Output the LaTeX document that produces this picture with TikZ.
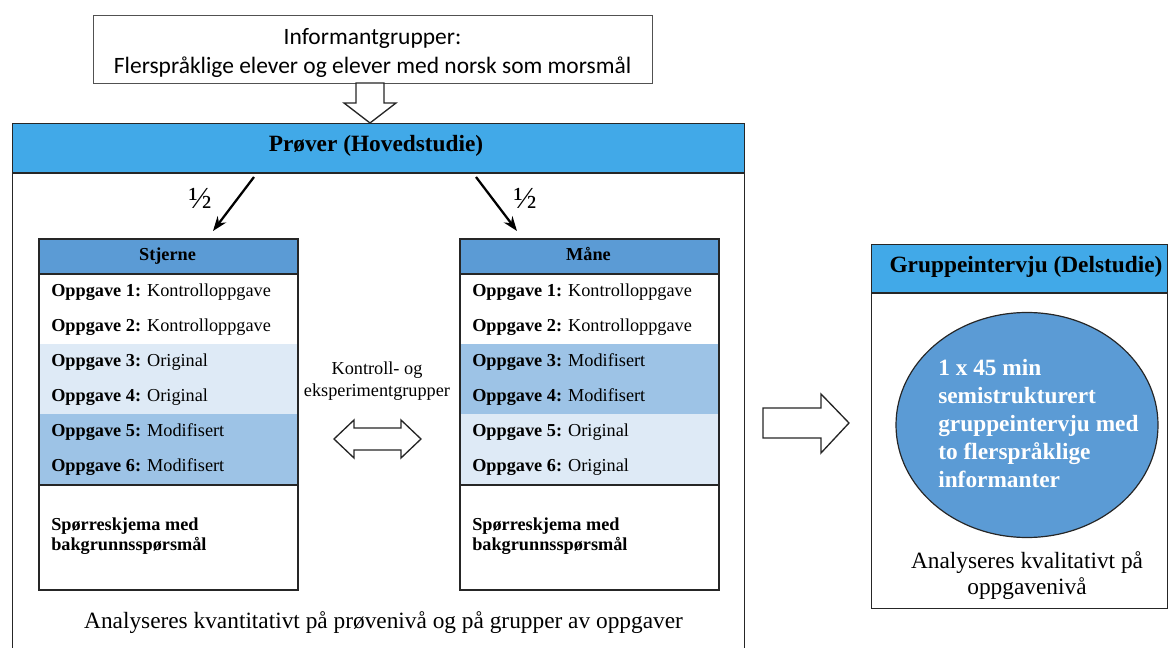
\documentclass[tikz,border=0pt]{standalone}
\usepackage{fontspec}
\setmainfont{Liberation Serif}
\newfontfamily\calibri{Carlito}
\usetikzlibrary{arrows.meta,shapes.geometric}
\definecolor{barblue}{HTML}{41A9E8}
\definecolor{hdrblue}{HTML}{5B9BD5}
\definecolor{modblue}{HTML}{9DC3E6}
\definecolor{origblue}{HTML}{DEEAF6}
\definecolor{edge}{HTML}{262626}
\tikzset{
  boxline/.style={draw=edge, line width=1.1pt},
  tabline/.style={draw=edge, line width=1.6pt},
  tabtxt/.style={anchor=west, inner sep=0pt, font=\fontsize{13.7}{16}\selectfont},
  hdrtxt/.style={inner sep=0pt, anchor=base, font=\fontsize{13.7}{16}\selectfont\bfseries},
  bigtxt/.style={inner sep=0pt, align=center, font=\fontsize{17.5}{19.5}\selectfont},
  halftxt/.style={inner sep=0pt, font=\fontsize{23}{25}\selectfont},
  hollow/.style={draw=edge, line width=1pt, fill=white, line join=miter},
  split/.style={line width=1.7pt, -{Stealth[length=11pt,width=8pt]}},
}
\begin{document}
\begin{tikzpicture}[x=0.75pt,y=-0.75pt]
\useasboundingbox (0,0) rectangle (1171,648);
\clip (0,0) rectangle (1171,648);

% top box
\node[boxline, draw=edge!80, anchor=north west, minimum width=419.25pt, minimum height=51pt, inner sep=0pt] (info) at (93,15) {};
\node[align=center, inner sep=0pt, font=\calibri\fontsize{17.6}{21.5}\selectfont] (infotxt) at (372.5,53)
  {Informantgrupper:\\Flerspråklige elever og elever med norsk som morsmål};

% main box
\fill[barblue] (12,123) rectangle (744,173);
\node[boxline, anchor=north west, minimum width=549pt, minimum height=450pt, inner sep=0pt] (main) at (12,123) {};
\draw[edge, line width=1.6pt] (12,173) -- (744,173);
\node[bigtxt, font=\fontsize{17.5}{19.5}\selectfont\bfseries] (prover) at (376,146) {Prøver (Hovedstudie)};

% down hollow arrow
\draw[hollow] (356,83) -- (384,83) -- (384,103) -- (396,103) -- (370,123) -- (344,103) -- (356,103) -- cycle;

% Stjerne table
\fill[hdrblue] (38,238) rectangle (297,274);
\fill[origblue] (38,344) rectangle (297,414);
\fill[modblue] (38,414) rectangle (297,485);
\draw[tabline] (38,274) -- (297,274);
\draw[tabline] (38,485) -- (297,485);
\node[tabline, anchor=north west, minimum width=194.25pt, minimum height=263.25pt, inner sep=0pt] (stj) at (38,238) {};
\node[hdrtxt] (stjh) at (167.5,261) {Stjerne};
\node[tabtxt] (s1) at (51,292) {\textbf{Oppgave 1:} Kontrolloppgave};
\node[tabtxt] (s2) at (51,327) {\textbf{Oppgave 2:} Kontrolloppgave};
\node[tabtxt] (s3) at (51,362) {\textbf{Oppgave 3:} Original};
\node[tabtxt] (s4) at (51,397) {\textbf{Oppgave 4:} Original};
\node[tabtxt] (s5) at (51,432) {\textbf{Oppgave 5:} Modifisert};
\node[tabtxt] (s6) at (51,467) {\textbf{Oppgave 6:} Modifisert};
\node[tabtxt, align=left, font=\fontsize{13.7}{15}\selectfont\bfseries] (sq) at (51,536) {Spørreskjema med\\bakgrunnsspørsmål};

% Maane table
\fill[hdrblue] (459,238) rectangle (718,274);
\fill[modblue] (459,344) rectangle (718,414);
\fill[origblue] (459,414) rectangle (718,485);
\draw[tabline] (459,274) -- (718,274);
\draw[tabline] (459,485) -- (718,485);
\node[tabline, anchor=north west, minimum width=194.25pt, minimum height=263.25pt, inner sep=0pt] (mane) at (459,238) {};
\node[hdrtxt] (maneh) at (588.5,261) {Måne};
\node[tabtxt] (m1) at (472,292) {\textbf{Oppgave 1:} Kontrolloppgave};
\node[tabtxt] (m2) at (472,327) {\textbf{Oppgave 2:} Kontrolloppgave};
\node[tabtxt] (m3) at (472,362) {\textbf{Oppgave 3:} Modifisert};
\node[tabtxt] (m4) at (472,397) {\textbf{Oppgave 4:} Modifisert};
\node[tabtxt] (m5) at (472,432) {\textbf{Oppgave 5:} Original};
\node[tabtxt] (m6) at (472,467) {\textbf{Oppgave 6:} Original};
\node[tabtxt, align=left, font=\fontsize{13.7}{15}\selectfont\bfseries] (mq) at (472,536) {Spørreskjema med\\bakgrunnsspørsmål};

% split arrows
\coordinate (ls) at (254,177);
\coordinate (le) at (213,231);
\coordinate (rs) at (476,177);
\coordinate (re) at (517,231);
\draw[split] (ls) -- (le);
\draw[split] (rs) -- (re);
\node[halftxt] (hl) at (200,198) {½};
\node[halftxt] (hr) at (525,198) {½};

% control/experiment
\node[align=center, inner sep=0pt, font=\fontsize{13.7}{16.5}\selectfont] (ke) at (377,381) {Kontroll- og\\eksperimentgrupper};
\draw[hollow] (334,439) -- (354,420) -- (354,428) -- (401,428) -- (401,420) -- (421,439)
  -- (401,458) -- (401,450) -- (354,450) -- (354,458) -- cycle;

\node[bigtxt] (kvant) at (383.5,623) {Analyseres kvantitativt på prøvenivå og på grupper av oppgaver};

% right hollow arrow
\draw[hollow] (763,408) -- (821,408) -- (821,394) -- (849,423) -- (821,453) -- (821,438) -- (763,438) -- cycle;

% Gruppeintervju box
\fill[barblue] (871,244) rectangle (1167,293);
\node[boxline, anchor=north west, minimum width=222pt, minimum height=273pt, inner sep=0pt] (gi) at (871,244) {};
\draw[edge, line width=1.6pt] (871,293) -- (1167,293);
\node[bigtxt, font=\fontsize{17.5}{19.5}\selectfont\bfseries] (gih) at (1026,267) {Gruppeintervju (Delstudie)};
\node[ellipse, draw=edge, line width=0.9pt, fill=hdrblue, minimum width=196.5pt, minimum height=168.75pt, inner sep=0pt] (ell) at (1027,425) {};
\node[anchor=west, align=left, inner sep=0pt, text=white, font=\fontsize{17.5}{21}\selectfont\bfseries] (elltxt) at (938,424)
  {1 x 45 min\\semistrukturert\\gruppeintervju med\\to flerspråklige\\informanter};
\node[bigtxt] (kval) at (1027,576) {Analyseres kvalitativt på\\oppgavenivå};
\end{tikzpicture}
\end{document}
